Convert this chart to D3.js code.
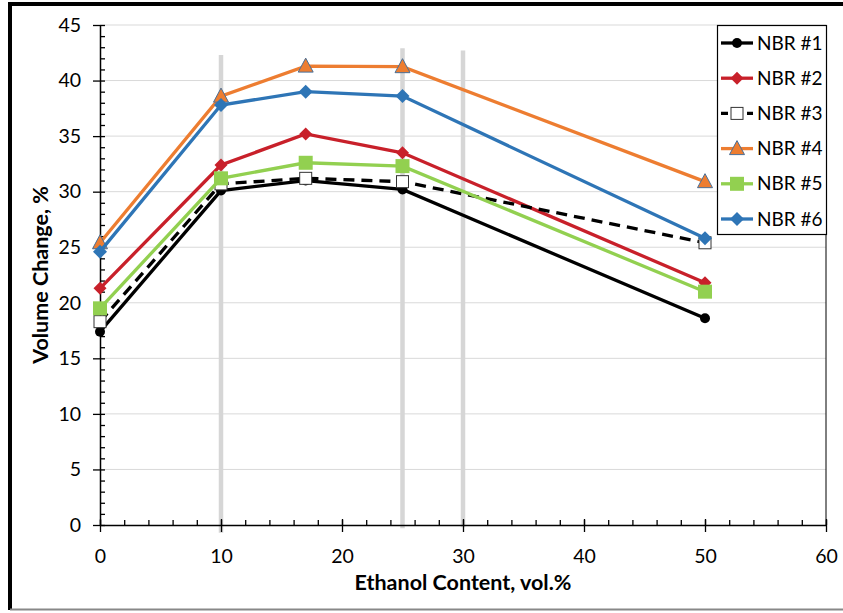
<!DOCTYPE html>
<html>
<head>
<meta charset="utf-8">
<script src="https://cdn.jsdelivr.net/npm/d3@7"></script>
<style>
  body { margin: 0; background: #fff; }
  svg text { font-family: Lato, "Open Sans", sans-serif; fill: #000; }
  .tick-label { font-size: 19.5px; }
  .axis-title { font-size: 21.5px; font-weight: bold; }
  .legend-label { font-size: 19px; }
</style>
</head>
<body>
<div id="wrapper"></div>
<script>
// Data
const ethanol = [0, 10, 17, 25, 50]
const seriesNames = ['NBR #1', 'NBR #2', 'NBR #3', 'NBR #4', 'NBR #5', 'NBR #6']
const nbr1 = [17.4, 30.1, 31.0, 30.2, 18.6]
const nbr2 = [21.3, 32.4, 35.2, 33.5, 21.8]
const nbr3 = [18.3, 30.7, 31.2, 30.9, 25.4]
const nbr4 = [25.4, 38.6, 41.3, 41.25, 30.9]
const nbr5 = [19.5, 31.2, 32.6, 32.3, 21.0]
const nbr6 = [24.6, 37.8, 39.0, 38.6, 25.8]
const xTicks = [0, 10, 20, 30, 40, 50, 60]
const yTicks = [0, 5, 10, 15, 20, 25, 30, 35, 40, 45]
// grey marker bars behind the curves (x value, top and bottom in y units)
const barX = [10, 25, 30]
const barTop = [42.3, 42.9, 42.7]
const barBottom = [-0.7, -0.3, -0.2]

const seriesValues = [nbr1, nbr2, nbr3, nbr4, nbr5, nbr6]

// styles
const styles = [
  { color: '#000000', marker: 'circle', dash: null },
  { color: '#C8202A', marker: 'diamond', dash: null },
  { color: '#000000', marker: 'open-square', dash: '11,7' },
  { color: '#ED7D31', marker: 'triangle', dash: null },
  { color: '#92D050', marker: 'square', dash: null },
  { color: '#2E75B6', marker: 'diamond', dash: null }
]

// 2. Dimensions
let dimensions = {
  width: 843,
  height: 613,
  margin: { top: 25, right: 17, bottom: 88, left: 100 }
}
dimensions.boundedWidth = dimensions.width - dimensions.margin.left - dimensions.margin.right
dimensions.boundedHeight = dimensions.height - dimensions.margin.top - dimensions.margin.bottom

// 3. Canvas
const wrapper = d3.select('#wrapper')
  .append('svg')
    .attr('width', dimensions.width)
    .attr('height', dimensions.height)

// frame around the figure
wrapper.append('line')
  .attr('x1', 10).attr('x2', 10).attr('y1', 2).attr('y2', 610)
  .attr('stroke', '#000').attr('stroke-width', 4)
wrapper.append('line')
  .attr('x1', 8).attr('x2', 843).attr('y1', 4).attr('y2', 4)
  .attr('stroke', '#000').attr('stroke-width', 4)
wrapper.append('line')
  .attr('x1', 10).attr('x2', 843).attr('y1', 609.5).attr('y2', 609.5)
  .attr('stroke', '#888').attr('stroke-width', 2)

const bounds = wrapper.append('g')
  .attr('transform', `translate(${dimensions.margin.left},${dimensions.margin.top})`)

// Scales
const xScale = d3.scaleLinear()
  .domain([0, 60])
  .range([0, dimensions.boundedWidth])

const yScale = d3.scaleLinear()
  .domain([0, 45])
  .range([dimensions.boundedHeight, 0])

// gridlines
bounds.append('g')
  .selectAll('line')
  .data(yTicks.filter(d => d > 0))
  .enter().append('line')
    .attr('x1', 0)
    .attr('x2', dimensions.boundedWidth)
    .attr('y1', d => yScale(d))
    .attr('y2', d => yScale(d))
    .attr('stroke', '#d9d9d9')
    .attr('stroke-width', 1)

// right border of plot area
bounds.append('line')
  .attr('x1', dimensions.boundedWidth).attr('x2', dimensions.boundedWidth)
  .attr('y1', 0).attr('y2', dimensions.boundedHeight)
  .attr('stroke', '#000').attr('stroke-width', 1)

// grey bars
bounds.append('g')
  .selectAll('line')
  .data(barX)
  .enter().append('line')
    .attr('x1', d => xScale(d))
    .attr('x2', d => xScale(d))
    .attr('y1', (d, i) => yScale(barTop[i]))
    .attr('y2', (d, i) => yScale(barBottom[i]))
    .attr('stroke', '#d6d6d6')
    .attr('stroke-width', 4.5)

// Axes
const xAxis = bounds.append('g')
  .attr('transform', `translate(0,${dimensions.boundedHeight})`)
  .call(d3.axisBottom(xScale).tickValues(xTicks).tickSizeInner(7).tickSizeOuter(0).tickPadding(17))
xAxis.append('g')
  .call(d3.axisBottom(xScale).tickValues(d3.range(0, 61, 2)).tickSize(-5).tickFormat(''))
  .call(g => g.select('.domain').remove())
xAxis.append('g')
  .call(d3.axisBottom(xScale).tickValues(xTicks).tickSize(-6).tickFormat(''))
  .call(g => g.select('.domain').remove())

const yAxis = bounds.append('g')
  .call(d3.axisLeft(yScale).tickValues(yTicks).tickSizeInner(7).tickSizeOuter(0).tickPadding(12))
yAxis.append('g')
  .call(d3.axisLeft(yScale).tickValues(d3.range(0, 46, 1)).tickSize(-5).tickFormat(''))
  .call(g => g.select('.domain').remove())

bounds.selectAll('.domain').attr('stroke', '#000').attr('stroke-width', 1.5)
bounds.selectAll('.tick line').attr('stroke', '#000').attr('stroke-width', 1.3)
bounds.selectAll('.tick text')
  .attr('class', 'tick-label')
  .attr('font-family', null)
  .attr('font-size', null)

// axis titles
wrapper.append('text')
  .attr('class', 'axis-title')
  .attr('x', dimensions.margin.left + dimensions.boundedWidth / 2)
  .attr('y', 590)
  .attr('text-anchor', 'middle')
  .text('Ethanol Content, vol.%')

wrapper.append('text')
  .attr('class', 'axis-title')
  .attr('transform', `translate(48,${dimensions.margin.top + dimensions.boundedHeight / 2}) rotate(-90)`)
  .attr('text-anchor', 'middle')
  .text('Volume Change, %')

// 4. Draw data
const lineGenerator = d3.line()
  .x((d, i) => xScale(ethanol[i]))
  .y(d => yScale(d))

function drawMarker(g, type, color, cx, cy) {
  if (type === 'circle') {
    g.append('circle').attr('cx', cx).attr('cy', cy).attr('r', 5).attr('fill', color)
  } else if (type === 'diamond') {
    const s = color === '#2E75B6' ? 7 : 6.5
    g.append('path')
      .attr('d', `M${cx},${cy - s}L${cx + s},${cy}L${cx},${cy + s}L${cx - s},${cy}Z`)
      .attr('fill', color)
  } else if (type === 'open-square') {
    g.append('rect').attr('x', cx - 6).attr('y', cy - 6).attr('width', 12).attr('height', 12)
      .attr('fill', '#fff').attr('stroke', '#333').attr('stroke-width', 1)
  } else if (type === 'triangle') {
    g.append('path')
      .attr('d', `M${cx},${cy - 8}L${cx + 7.5},${cy + 6}L${cx - 7.5},${cy + 6}Z`)
      .attr('fill', color).attr('stroke', '#4A7098').attr('stroke-width', 1)
  } else if (type === 'square') {
    g.append('rect').attr('x', cx - 7).attr('y', cy - 7).attr('width', 14).attr('height', 14)
      .attr('fill', color)
  }
}

seriesValues.forEach((values, si) => {
  const st = styles[si]
  const g = bounds.append('g')
  g.append('path')
    .datum(values)
    .attr('d', lineGenerator)
    .attr('fill', 'none')
    .attr('stroke', st.color)
    .attr('stroke-width', 3.3)
    .attr('stroke-dasharray', st.dash)
  values.forEach((v, i) => drawMarker(g, st.marker, st.color, xScale(ethanol[i]), yScale(v)))
})

// 5. Legend
const legend = wrapper.append('g')
legend.append('rect')
  .attr('x', 717.5).attr('y', 25.5)
  .attr('width', 109).attr('height', 209)
  .attr('fill', '#fff').attr('stroke', '#000').attr('stroke-width', 1.2)

seriesNames.forEach((name, i) => {
  const st = styles[i]
  const y = 43 + i * 35.2
  const item = legend.append('g')
  item.append('line')
    .attr('x1', 721).attr('x2', 753).attr('y1', y).attr('y2', y)
    .attr('stroke', st.color).attr('stroke-width', 3.3)
    .attr('stroke-dasharray', st.dash ? '7,6' : null)
  drawMarker(item, st.marker, st.color, 737, y)
  item.append('text')
    .attr('class', 'legend-label')
    .attr('x', 757)
    .attr('y', y)
    .attr('dy', '0.35em')
    .text(name)
})
</script>
</body>
</html>
